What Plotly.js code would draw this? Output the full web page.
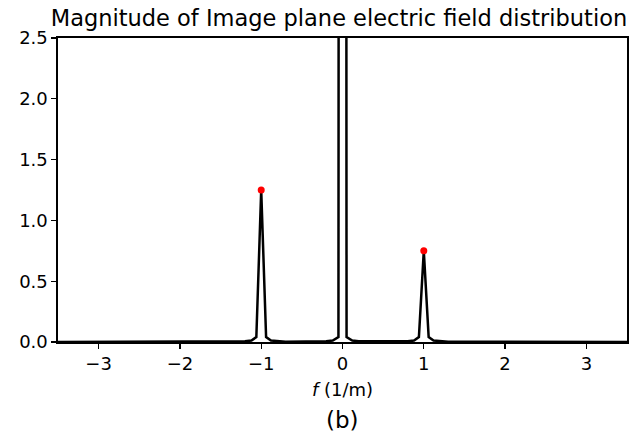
<!DOCTYPE html>
<html><head><meta charset="utf-8">
<script src="https://cdn.plot.ly/plotly-3.0.1.min.js"></script>
<style>html,body{margin:0;padding:0;background:#fff;}</style>
</head><body><div id="chart" style="width:642px;height:436px;"></div>
<script>
// Spectrum samples (frequency in 1/m, magnitude)
const freq = [-3.5, -1.3, -1.2, -1.12, -1.06, -1.0, -0.94, -0.88, -0.8, -0.7,
              -0.2, -0.12, -0.05, 0.0, 0.05, 0.12, 0.2,
              0.7, 0.8, 0.88, 0.94, 1.0, 1.06, 1.12, 1.2, 1.3, 3.5];
const magnitude = [0.0, 0.003, 0.006, 0.012, 0.04, 1.25, 0.04, 0.012, 0.006, 0.003,
                   0.006, 0.012, 0.04, 60.0, 0.04, 0.012, 0.006,
                   0.003, 0.006, 0.012, 0.04, 0.75, 0.04, 0.012, 0.006, 0.003, 0.0];
const peakFreq = [-1.0, 1.0];
const peakMag = [1.25, 0.75];
const xTicks = [-3, -2, -1, 0, 1, 2, 3];
const yTicks = [0.0, 0.5, 1.0, 1.5, 2.0, 2.5];

const font = "DejaVu Sans, sans-serif";
Plotly.newPlot('chart', [
  {x: freq, y: magnitude, mode: 'lines', line: {color: '#000', width: 2.5}, showlegend: false, hoverinfo: 'skip'},
  {x: peakFreq, y: peakMag, mode: 'markers', marker: {color: '#ff0000', size: 7}, showlegend: false}
], {
  width: 642, height: 436,
  margin: {l: 58, r: 15, t: 38, b: 94},
  paper_bgcolor: '#fff', plot_bgcolor: '#fff',
  font: {family: font, color: '#000', size: 18},
  title: {text: 'Magnitude of Image plane electric field distribution', font: {family: font, size: 22.5, color: '#000'},
          x: 0.528, xanchor: 'center', y: 0.958, yanchor: 'middle'},
  xaxis: {range: [-3.5, 3.5], tickvals: xTicks, ticktext: xTicks.map(v => v < 0 ? '\u2212' + Math.abs(v) : String(v)),
          ticks: 'outside', ticklen: 5, tickwidth: 1.3, tickcolor: '#000',
          showline: true, linecolor: '#000', linewidth: 1.6, mirror: true,
          showgrid: false, zeroline: false, tickfont: {size: 18},
          title: {text: '<i>f</i> (1/m)', font: {size: 18}, standoff: 10}},
  yaxis: {range: [0, 2.5], tickvals: yTicks, ticktext: yTicks.map(v => v.toFixed(1)),
          ticks: 'outside', ticklen: 5, tickwidth: 1.3, tickcolor: '#000',
          showline: true, linecolor: '#000', linewidth: 1.6, mirror: true,
          showgrid: false, zeroline: false, tickfont: {size: 18}},
  annotations: [{text: '(b)', xref: 'paper', yref: 'paper', x: 0.5, y: -0.255, xanchor: 'center', yanchor: 'middle',
                 showarrow: false, font: {family: font, size: 23, color: '#000'}}]
}, {displayModeBar: false, staticPlot: true});
</script></body></html>
